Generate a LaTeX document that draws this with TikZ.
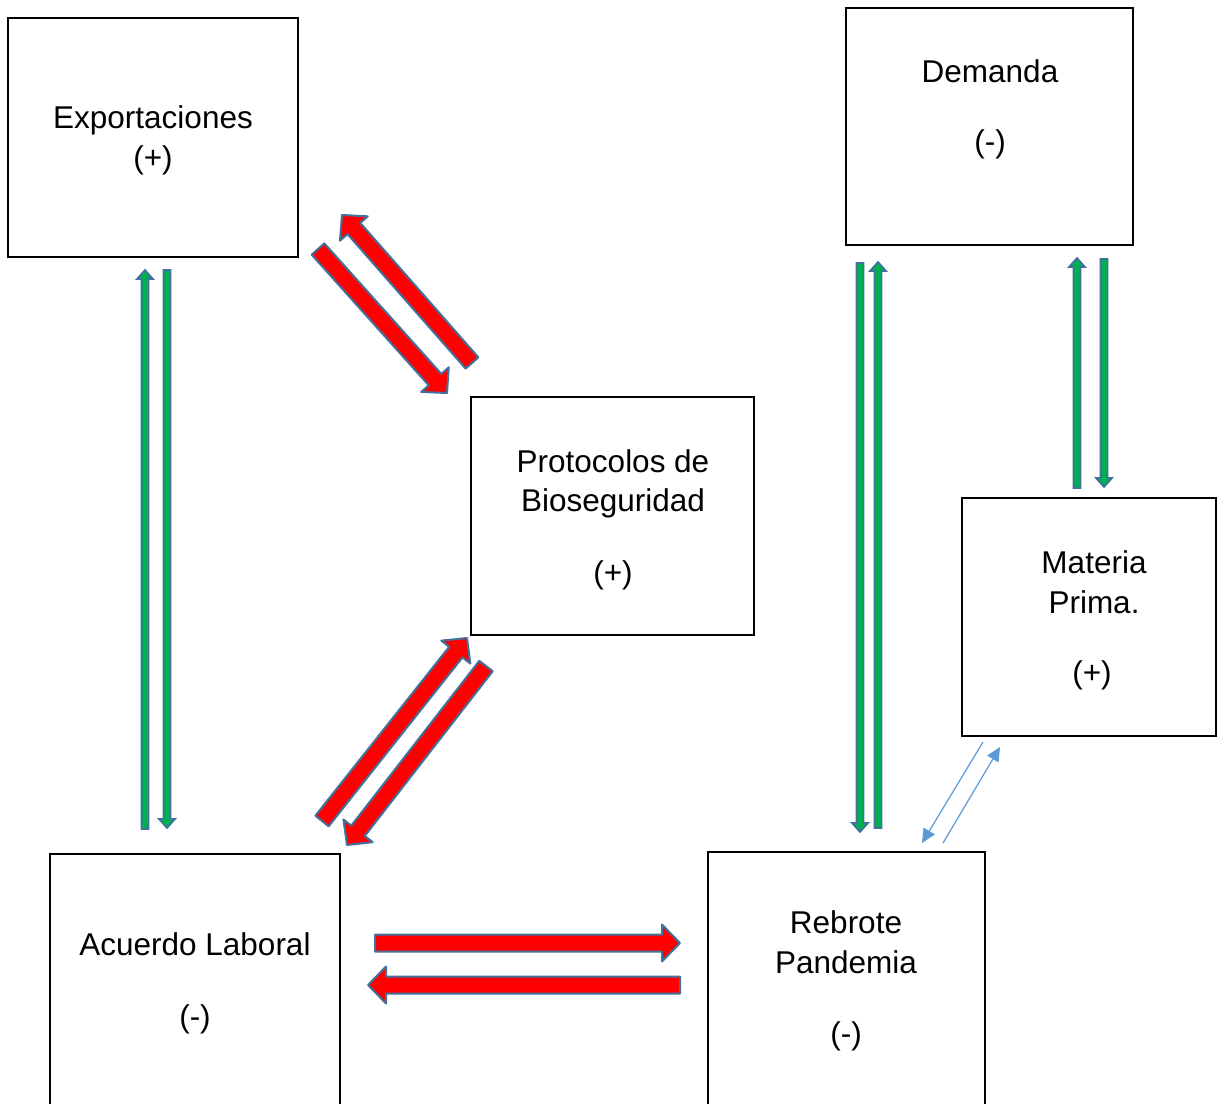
\documentclass[tikz,border=0pt]{standalone}
\usepackage{fontspec}
\setmainfont{Liberation Sans}
\usetikzlibrary{calc,arrows.meta}
\definecolor{outlineblue}{HTML}{41719C}
\definecolor{arrgreen}{HTML}{00B050}
\definecolor{thinblue}{HTML}{5B9BD5}
\newcommand{\blkarr}[6]{%
  \coordinate (hb) at ($(#2)!#5!(#1)$);
  \draw[#6] ($(#1)!#3!90:(#2)$) -- ($(hb)!#3!90:(#2)$) -- ($(hb)!#4!90:(#2)$) -- (#2)
    -- ($(hb)!#4!-90:(#2)$) -- ($(hb)!#3!-90:(#2)$) -- ($(#1)!#3!-90:(#2)$) -- cycle;
}
\newcommand{\redarr}[2]{\blkarr{#1}{#2}{8.5pt}{18.5pt}{18pt}{redstyle}}
\newcommand{\grnarr}[2]{\blkarr{#1}{#2}{3.6pt}{8pt}{9pt}{greenstyle}}
\tikzset{
  box/.style={draw=black, line width=2pt, fill=none, inner sep=0pt},
  lbl/.style={anchor=base, inner sep=0pt, font=\fontsize{31.5}{39.5}\selectfont},
  redstyle/.style={fill=red, draw=outlineblue, line width=2pt, line join=round},
  greenstyle/.style={fill=arrgreen, draw=outlineblue, line width=1.7pt, line join=miter},
  thinarr/.style={draw=thinblue, line width=1.2pt, -{Triangle[length=14pt,width=13pt]}}
}
\begin{document}
\begin{tikzpicture}[x=1pt,y=-1pt]
\useasboundingbox (0,0) rectangle (1217,1103);
\clip (0,0) rectangle (1217,1103);
\fill[white] (0,0) rectangle (1217,1103);

% boxes
\node[box, minimum width=290pt, minimum height=239pt] (exp) at (153,137.5) {};
\node[box, minimum width=287pt, minimum height=237pt] (dem) at (989.5,126.5) {};
\node[box, minimum width=283pt, minimum height=238pt] (pro) at (612.5,516) {};
\node[box, minimum width=254pt, minimum height=238pt] (mat) at (1089,617) {};
\node[box, minimum width=290.5pt, minimum height=270pt] (acu) at (194.75,989) {};
\node[box, minimum width=277pt, minimum height=270pt] (reb) at (846.5,987) {};

% labels
\node[lbl] (expA) at (153,128) {Exportaciones};
\node[lbl] (expB) at (153,168) {(+)};
\node[lbl] (demA) at (990,82) {Demanda};
\node[lbl] (demB) at (990,152) {(-)};
\node[lbl] (proA) at (613,472) {Protocolos de};
\node[lbl] (proB) at (613,511) {Bioseguridad};
\node[lbl] (proC) at (613,583) {(+)};
\node[lbl] (matA) at (1094,573) {Materia};
\node[lbl] (matB) at (1094,613) {Prima.};
\node[lbl] (matC) at (1092,683) {(+)};
\node[lbl] (acuA) at (195,955) {Acuerdo Laboral};
\node[lbl] (acuB) at (195,1027) {(-)};
\node[lbl] (rebA) at (846,933) {Rebrote};
\node[lbl] (rebB) at (846,973) {Pandemia};
\node[lbl] (rebC) at (846,1044) {(-)};

% connector end points
\coordinate (ep1s) at (318,249);  \coordinate (ep1e) at (447,393);
\coordinate (pe1s) at (472,363);  \coordinate (pe1e) at (342,215);
\coordinate (ap1s) at (322,821);  \coordinate (ap1e) at (467,638);
\coordinate (pa1s) at (486,666);  \coordinate (pa1e) at (347,845);
\coordinate (ar1s) at (375,943);  \coordinate (ar1e) at (680,943);
\coordinate (ra1s) at (680,985);  \coordinate (ra1e) at (368,985);

\coordinate (ae1s) at (145,829);  \coordinate (ae1e) at (145,270);
\coordinate (ea1s) at (167,270);  \coordinate (ea1e) at (167,828);
\coordinate (dr1s) at (860,263);  \coordinate (dr1e) at (860,832);
\coordinate (rd1s) at (878,828);  \coordinate (rd1e) at (878,262);
\coordinate (md1s) at (1077,488); \coordinate (md1e) at (1077,258);
\coordinate (dm1s) at (1104,259); \coordinate (dm1e) at (1104,487);

\coordinate (mr1s) at (983,742);  \coordinate (mr1e) at (922,843);
\coordinate (rm1s) at (943,843);  \coordinate (rm1e) at (1000,747);

% red block arrows
\redarr{ep1s}{ep1e}
\redarr{pe1s}{pe1e}
\redarr{ap1s}{ap1e}
\redarr{pa1s}{pa1e}
\redarr{ar1s}{ar1e}
\redarr{ra1s}{ra1e}

% green arrows
\grnarr{ae1s}{ae1e}
\grnarr{ea1s}{ea1e}
\grnarr{dr1s}{dr1e}
\grnarr{rd1s}{rd1e}
\grnarr{md1s}{md1e}
\grnarr{dm1s}{dm1e}

% thin blue arrows
\draw[thinarr] (mr1s) -- (mr1e);
\draw[thinarr] (rm1s) -- (rm1e);
\end{tikzpicture}
\end{document}
